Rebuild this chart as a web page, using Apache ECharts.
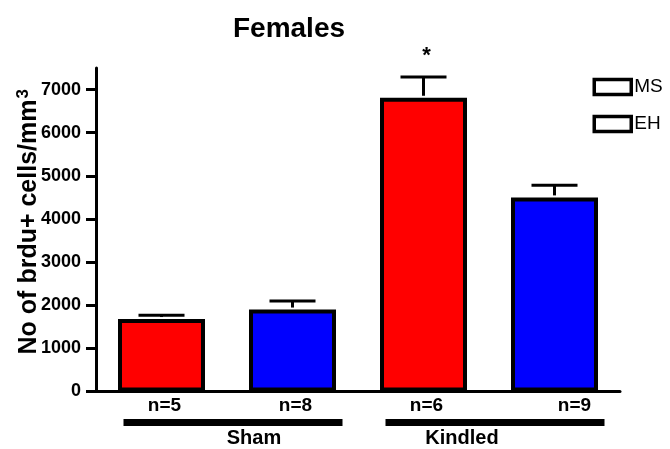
<!DOCTYPE html>
<html>
<head>
<meta charset="utf-8">
<title>Females</title>
<script src="https://cdn.jsdelivr.net/npm/echarts@6/dist/echarts.min.js"></script>
<style>
  html, body { margin: 0; padding: 0; background: #fff; }
  #chart { width: 670px; height: 449px; }
</style>
</head>
<body>
<div id="chart"></div>
<script>
// Groups and treatments
const groups = ['Sham', 'Kindled'];
const treatments = ['MS', 'EH'];
// Sample sizes shown under each bar (Sham MS, Sham EH, Kindled MS, Kindled EH)
const sampleSizes = ['n=5', 'n=8', 'n=6', 'n=9'];

// Mean BrdU+ cell density and SEM per group
const msMean = [1680, 6810];
const msErr = [90, 480];
const ehMean = [1900, 4500];
const ehErr = [200, 280];

// Significance markers per bar
const signif = ['', '', '*', ''];

// Y axis ticks
const yTicks = [0, 1000, 2000, 3000, 4000, 5000, 6000, 7000];
const yMax = 7500;

const FONT = '"Liberation Sans", Arial, sans-serif';
const RED = '#ff0000';
const BLUE = '#0000ff';

// one slot per group x treatment
const slots = [];
groups.forEach((g, gi) => treatments.forEach((t, ti) => slots.push({ g: gi, t: ti })));

const msData = [];
const ehData = [];
const errData = [];
slots.forEach((s, i) => {
  const mean = s.t === 0 ? msMean[s.g] : ehMean[s.g];
  const err = s.t === 0 ? msErr[s.g] : ehErr[s.g];
  (s.t === 0 ? msData : ehData).push([i, mean]);
  errData.push([i, mean, err, signif[i]]);
});

const chart = echarts.init(document.getElementById('chart'), null, { renderer: 'canvas' });

const option = {
  animation: false,
  backgroundColor: '#fff',
  textStyle: { fontFamily: FONT },
  grid: { left: 96, right: 50, top: 68, bottom: 57.5, containLabel: false, outerBoundsMode: 'none' },
  legend: {
    orient: 'vertical',
    left: 592.5,
    top: 77,
    padding: 0,
    itemWidth: 37,
    itemHeight: 15,
    itemGap: 17,
    icon: 'rect',
    data: treatments,
    itemStyle: { color: '#fff', borderColor: '#000', borderWidth: 3.5 },
    textStyle: { fontFamily: FONT, fontSize: 19, color: '#000', lineHeight: 20, padding: [0, 0, 0, -2] },
    selectedMode: false
  },
  xAxis: {
    type: 'category',
    data: sampleSizes,
    axisLine: { lineStyle: { color: '#000', width: 3 } },
    axisTick: { show: false },
    axisLabel: {
      margin: 5,
      interval: 0,
      formatter: (v, i) => (i === 3 ? '{far|' + v + '}' : '{n|' + v + '}'),
      rich: {
        n: { fontFamily: FONT, fontSize: 19, fontWeight: 'bold', color: '#000', padding: [0, 0, 0, 6] },
        far: { fontFamily: FONT, fontSize: 19, fontWeight: 'bold', color: '#000', padding: [0, 0, 0, 40] }
      }
    }
  },
  yAxis: {
    type: 'value',
    min: 0,
    max: yMax,
    splitLine: { show: false },
    axisLine: { show: true, lineStyle: { color: '#000', width: 3 } },
    axisTick: { show: true, length: 10, lineStyle: { color: '#000', width: 3 }, customValues: yTicks },
    axisLabel: {
      margin: 15,
      customValues: yTicks,
      formatter: v => String(v),
      fontFamily: FONT, fontSize: 18, fontWeight: 'bold', color: '#000'
    },
    name: '{a|No of brdu+ cells/mm}{s|3}',
    nameLocation: 'middle',
    nameGap: 52,
    nameRotate: 90,
    nameMoveOverlap: false,
    nameTextStyle: {
      padding: [0, 0, 0, 16],
      rich: {
        a: { fontFamily: FONT, fontSize: 25, fontWeight: 'bold', color: '#000' },
        s: { fontFamily: FONT, fontSize: 17, fontWeight: 'bold', color: '#000', verticalAlign: 'top', padding: [0, 0, 12, 1] }
      }
    }
  },
  series: [
    {
      name: 'MS',
      type: 'bar',
      data: msData,
      barWidth: 87,
      barGap: '-100%',
      itemStyle: { color: RED, borderColor: '#000', borderWidth: 4 }
    },
    {
      name: 'EH',
      type: 'bar',
      data: ehData,
      barWidth: 87,
      barGap: '-100%',
      itemStyle: { color: BLUE, borderColor: '#000', borderWidth: 4 }
    },
    {
      name: 'sem',
      type: 'custom',
      z: 5,
      data: errData,
      encode: { x: 0, y: 1 },
      renderItem: (params, api) => {
        const idx = api.value(0);
        const mean = api.value(1);
        const err = api.value(2);
        const mark = errData[params.dataIndex][3];
        const top = api.coord([idx, mean]);
        const cap = api.coord([idx, mean + err]);
        const half = 23;
        const style = { stroke: '#000', lineWidth: 3 };
        const children = [
          { type: 'line', shape: { x1: cap[0], y1: top[1] - 2, x2: cap[0], y2: cap[1] }, style },
          { type: 'line', shape: { x1: cap[0] - half, y1: cap[1], x2: cap[0] + half, y2: cap[1] }, style }
        ];
        if (mark) {
          children.push({
            type: 'text',
            style: {
              text: mark, x: cap[0] + 3, y: cap[1] - 21,
              align: 'center', verticalAlign: 'middle',
              font: 'bold 22px ' + FONT, fill: '#000'
            }
          });
        }
        return { type: 'group', children };
      }
    }
  ]
};

chart.setOption(option);

// Chart title and the group brackets beneath the axis
function drawDecorations() {
  const c = i => chart.convertToPixel({ xAxisIndex: 0 }, i);
  const base = chart.convertToPixel({ yAxisIndex: 0 }, 0);
  const labelShift = [27, -27];
  const elements = [
    {
      type: 'text', x: 289, y: 29,
      style: { text: 'Females', font: 'bold 28px ' + FONT, fill: '#000', align: 'center', verticalAlign: 'middle' }
    }
  ];
  groups.forEach((g, gi) => {
    const a = c(gi * 2);
    const b = c(gi * 2 + 1);
    elements.push({
      type: 'rect',
      shape: { x: a - 38, y: base + 27.5, width: (b + 50) - (a - 38), height: 7 },
      style: { fill: '#000' }
    });
    elements.push({
      type: 'text', x: (a + b) / 2 + labelShift[gi], y: base + 47,
      style: { text: g, font: 'bold 20px ' + FONT, fill: '#000', align: 'center', verticalAlign: 'middle' }
    });
  });
  chart.setOption({ graphic: elements });
}
drawDecorations();
</script>
</body>
</html>
